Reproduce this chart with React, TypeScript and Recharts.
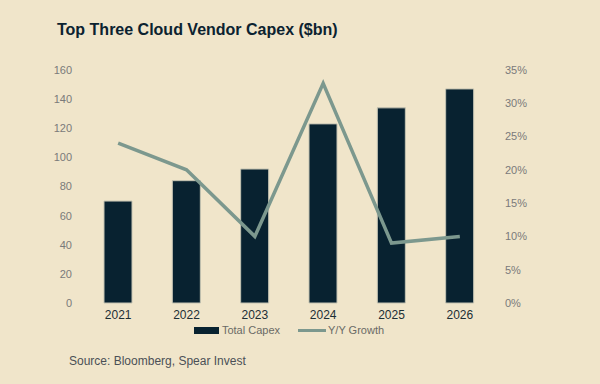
import React from 'react';
import { ComposedChart, Bar, Line, XAxis, YAxis, Legend } from 'recharts';

const years = ['2021', '2022', '2023', '2024', '2025', '2026'];
const totalCapex = [70, 84, 92, 123, 134, 147];
const yoyGrowth = [0.24, 0.2, 0.1, 0.33, 0.09, 0.1];
const leftTicks = [0, 20, 40, 60, 80, 100, 120, 140, 160];
const rightTicks = [0, 0.05, 0.1, 0.15, 0.2, 0.25, 0.3, 0.35];

const data = years.map((y, i) => ({ year: y, capex: totalCapex[i], growth: yoyGrowth[i] }));

const BG = '#f0e5ca';
const BAR = '#082230';
const LINE = '#7c988e';
const FONT = '"Liberation Sans", Arial, sans-serif';

const renderLegend = () => (
  <div
    style={{
      height: 14,
      display: 'flex',
      justifyContent: 'center',
      alignItems: 'center',
      fontFamily: FONT,
      fontSize: 11,
      color: '#6a6a66',
    }}
  >
    <span style={{ display: 'inline-block', width: 25, height: 7, background: BAR, marginRight: 3 }} />
    <span style={{ marginRight: 18 }}>Total Capex</span>
    <span style={{ display: 'inline-block', width: 28, height: 3, background: LINE, marginRight: 2 }} />
    <span>Y/Y Growth</span>
  </div>
);

export default function App() {
  return (
    <div style={{ position: 'absolute', left: 0, top: 0, width: 600, height: 384, background: BG, overflow: 'hidden' }}>
      <div
        style={{
          position: 'absolute',
          left: 57,
          top: 21,
          fontFamily: FONT,
          fontWeight: 'bold',
          fontSize: 16,
          lineHeight: '17px',
          color: '#0b2230',
          whiteSpace: 'nowrap',
        }}
      >
        Top Three Cloud Vendor Capex ($bn)
      </div>
      <div style={{ position: 'absolute', left: 0, top: 0 }}>
        <ComposedChart
          width={600}
          height={384}
          data={data}
          margin={{ top: 70, right: 46, bottom: 47, left: 24 }}
        >
          <XAxis
            dataKey="year"
            axisLine={false}
            tickLine={false}
            height={20}
            tickMargin={1}
            tick={{ fill: '#1c2e35', fontSize: 12, fontFamily: FONT }}
            interval={0}
          />
          <YAxis
            yAxisId="left"
            orientation="left"
            width={60}
            domain={[0, 160]}
            ticks={leftTicks}
            axisLine={false}
            tickLine={false}
            tickMargin={6}
            tick={{ fill: '#7a7a7a', fontSize: 11, fontFamily: FONT }}
          />
          <YAxis
            yAxisId="right"
            orientation="right"
            width={60}
            domain={[0, 0.35]}
            ticks={rightTicks}
            axisLine={false}
            tickLine={false}
            tickMargin={5}
            tickFormatter={(v: number) => `${Math.round(v * 100)}%`}
            tick={{ fill: '#7a7a7a', fontSize: 11, fontFamily: FONT }}
          />
          <Legend verticalAlign="bottom" content={renderLegend} />
          <Bar
            yAxisId="left"
            dataKey="capex"
            name="Total Capex"
            fill={BAR}
            stroke="#c4c3b2"
            strokeWidth={1}
            barSize={28}
            isAnimationActive={false}
          />
          <Line
            yAxisId="right"
            dataKey="growth"
            name="Y/Y Growth"
            stroke={LINE}
            strokeWidth={3.5}
            dot={false}
            activeDot={false}
            type="linear"
            isAnimationActive={false}
          />
        </ComposedChart>
      </div>
      <div
        style={{
          position: 'absolute',
          left: 69,
          top: 354,
          fontFamily: FONT,
          fontSize: 12,
          lineHeight: '15px',
          color: '#4b5056',
          whiteSpace: 'nowrap',
        }}
      >
        Source: Bloomberg, Spear Invest
      </div>
    </div>
  );
}
